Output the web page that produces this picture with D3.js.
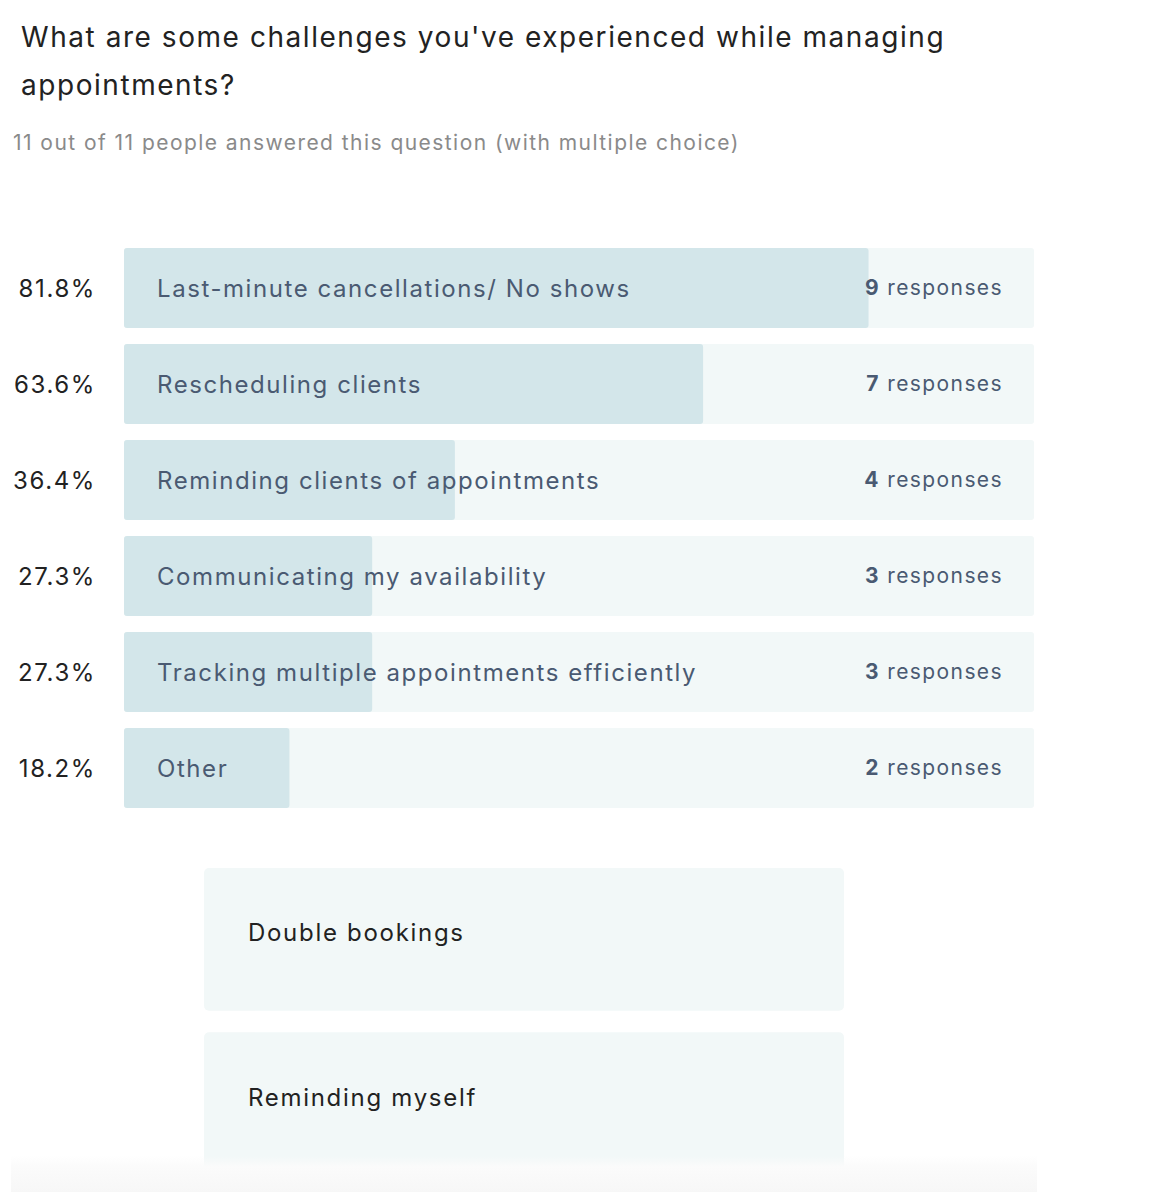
<!DOCTYPE html>
<html lang="en">
<head>
    <meta charset="UTF-8">
    <title>Appointment challenges</title>
    <script src="https://d3js.org/d3.v7.min.js"></script>
    <style>
        html, body { margin: 0; padding: 0; background: #fff; }
        svg { display: block; font-family: Inter, "Noto Sans", sans-serif; }
    </style>
</head>
<body>
    <svg id="chart"></svg>
    <script>
        // Survey data
        const titleLines = ["What are some challenges you've experienced while managing", "appointments?"];
        const subtitle = "11 out of 11 people answered this question (with multiple choice)";
        const choices = [
            "Last-minute cancellations/ No shows",
            "Rescheduling clients",
            "Reminding clients of appointments",
            "Communicating my availability",
            "Tracking multiple appointments efficiently",
            "Other"
        ];
        const responses = [9, 7, 4, 3, 3, 2];
        const totalPeople = 11;
        const otherAnswers = ["Double bookings", "Reminding myself"];

        const W = 1162, H = 1192;
        const svg = d3.select('#chart').attr('width', W).attr('height', H);

        // Title + subtitle
        svg.selectAll('text.title')
            .data(titleLines)
            .join('text')
            .attr('class', 'title')
            .attr('x', 21)
            .attr('y', (d, i) => 47 + i * 48)
            .attr('font-size', 28)
            .attr('letter-spacing', 1.55)
            .attr('fill', '#222')
            .text(d => d);

        svg.append('text')
            .attr('x', 13)
            .attr('y', 150)
            .attr('font-size', 21)
            .attr('letter-spacing', 1.45)
            .attr('fill', '#8a8a8a')
            .text(subtitle);

        const x = d3.scaleLinear().domain([0, totalPeople]).range([124, 1034]);
        const y = d3.scaleBand().domain(choices).range([248, 808]).paddingInner(16 / 96).paddingOuter(0);

        const rows = svg.selectAll('g.row')
            .data(choices)
            .join('g')
            .attr('class', 'row')
            .attr('transform', d => `translate(0,${y(d)})`);

        // background track
        rows.append('rect')
            .attr('x', x(0))
            .attr('width', x(totalPeople) - x(0))
            .attr('height', y.bandwidth())
            .attr('rx', 3)
            .attr('fill', '#f2f8f8');

        // filled part
        rows.append('rect')
            .attr('x', x(0))
            .attr('width', (d, i) => x(responses[i]) - x(0))
            .attr('height', y.bandwidth())
            .attr('rx', 3)
            .attr('fill', '#d3e6ea');

        const mid = y.bandwidth() / 2;

        rows.append('text')
            .attr('x', 96)
            .attr('y', mid + 1)
            .attr('dy', '0.35em')
            .attr('text-anchor', 'end')
            .attr('font-size', 24)
            .attr('letter-spacing', 1.6)
            .attr('fill', '#222')
            .text((d, i) => (responses[i] / totalPeople * 100).toFixed(1) + '%');

        rows.append('text')
            .attr('x', 157)
            .attr('y', mid + 1)
            .attr('dy', '0.35em')
            .attr('font-size', 24)
            .attr('letter-spacing', 1.57)
            .attr('fill', '#4a5a72')
            .text(d => d);

        const resp = rows.append('text')
            .attr('x', 1003)
            .attr('y', mid)
            .attr('dy', '0.35em')
            .attr('text-anchor', 'end')
            .attr('font-size', 21)
            .attr('letter-spacing', 1.4)
            .attr('fill', '#4a5a72');
        resp.append('tspan').attr('font-weight', 700).text((d, i) => responses[i]);
        resp.append('tspan').text(' responses');

        // "Other" free-text answers
        const oy = d3.scaleBand().domain(otherAnswers).range([868, 1175]).paddingInner(0.13).paddingOuter(0);

        const boxes = svg.selectAll('g.other')
            .data(otherAnswers)
            .join('g')
            .attr('class', 'other')
            .attr('transform', d => `translate(204,${oy(d)})`);

        boxes.append('rect')
            .attr('width', 640)
            .attr('height', oy.bandwidth())
            .attr('rx', 5)
            .attr('fill', '#f2f8f8');

        boxes.append('text')
            .attr('x', 44)
            .attr('y', 65)
            .attr('dy', '0.35em')
            .attr('font-size', 24)
            .attr('letter-spacing', 1.7)
            .attr('fill', '#222')
            .text(d => d);

        // faded footer band over the bottom edge
        const grad = svg.append('defs').append('linearGradient')
            .attr('id', 'fade').attr('x1', 0).attr('y1', 0).attr('x2', 0).attr('y2', 1);
        grad.append('stop').attr('offset', 0).attr('stop-color', '#fafafa').attr('stop-opacity', 0);
        grad.append('stop').attr('offset', 0.3).attr('stop-color', '#fbfbfb').attr('stop-opacity', 1);
        grad.append('stop').attr('offset', 1).attr('stop-color', '#f7f7f7').attr('stop-opacity', 1);

        svg.append('rect')
            .attr('x', 11).attr('y', 1156)
            .attr('width', 1026).attr('height', H - 1156)
            .attr('fill', 'url(#fade)');
    </script>
</body>
</html>
